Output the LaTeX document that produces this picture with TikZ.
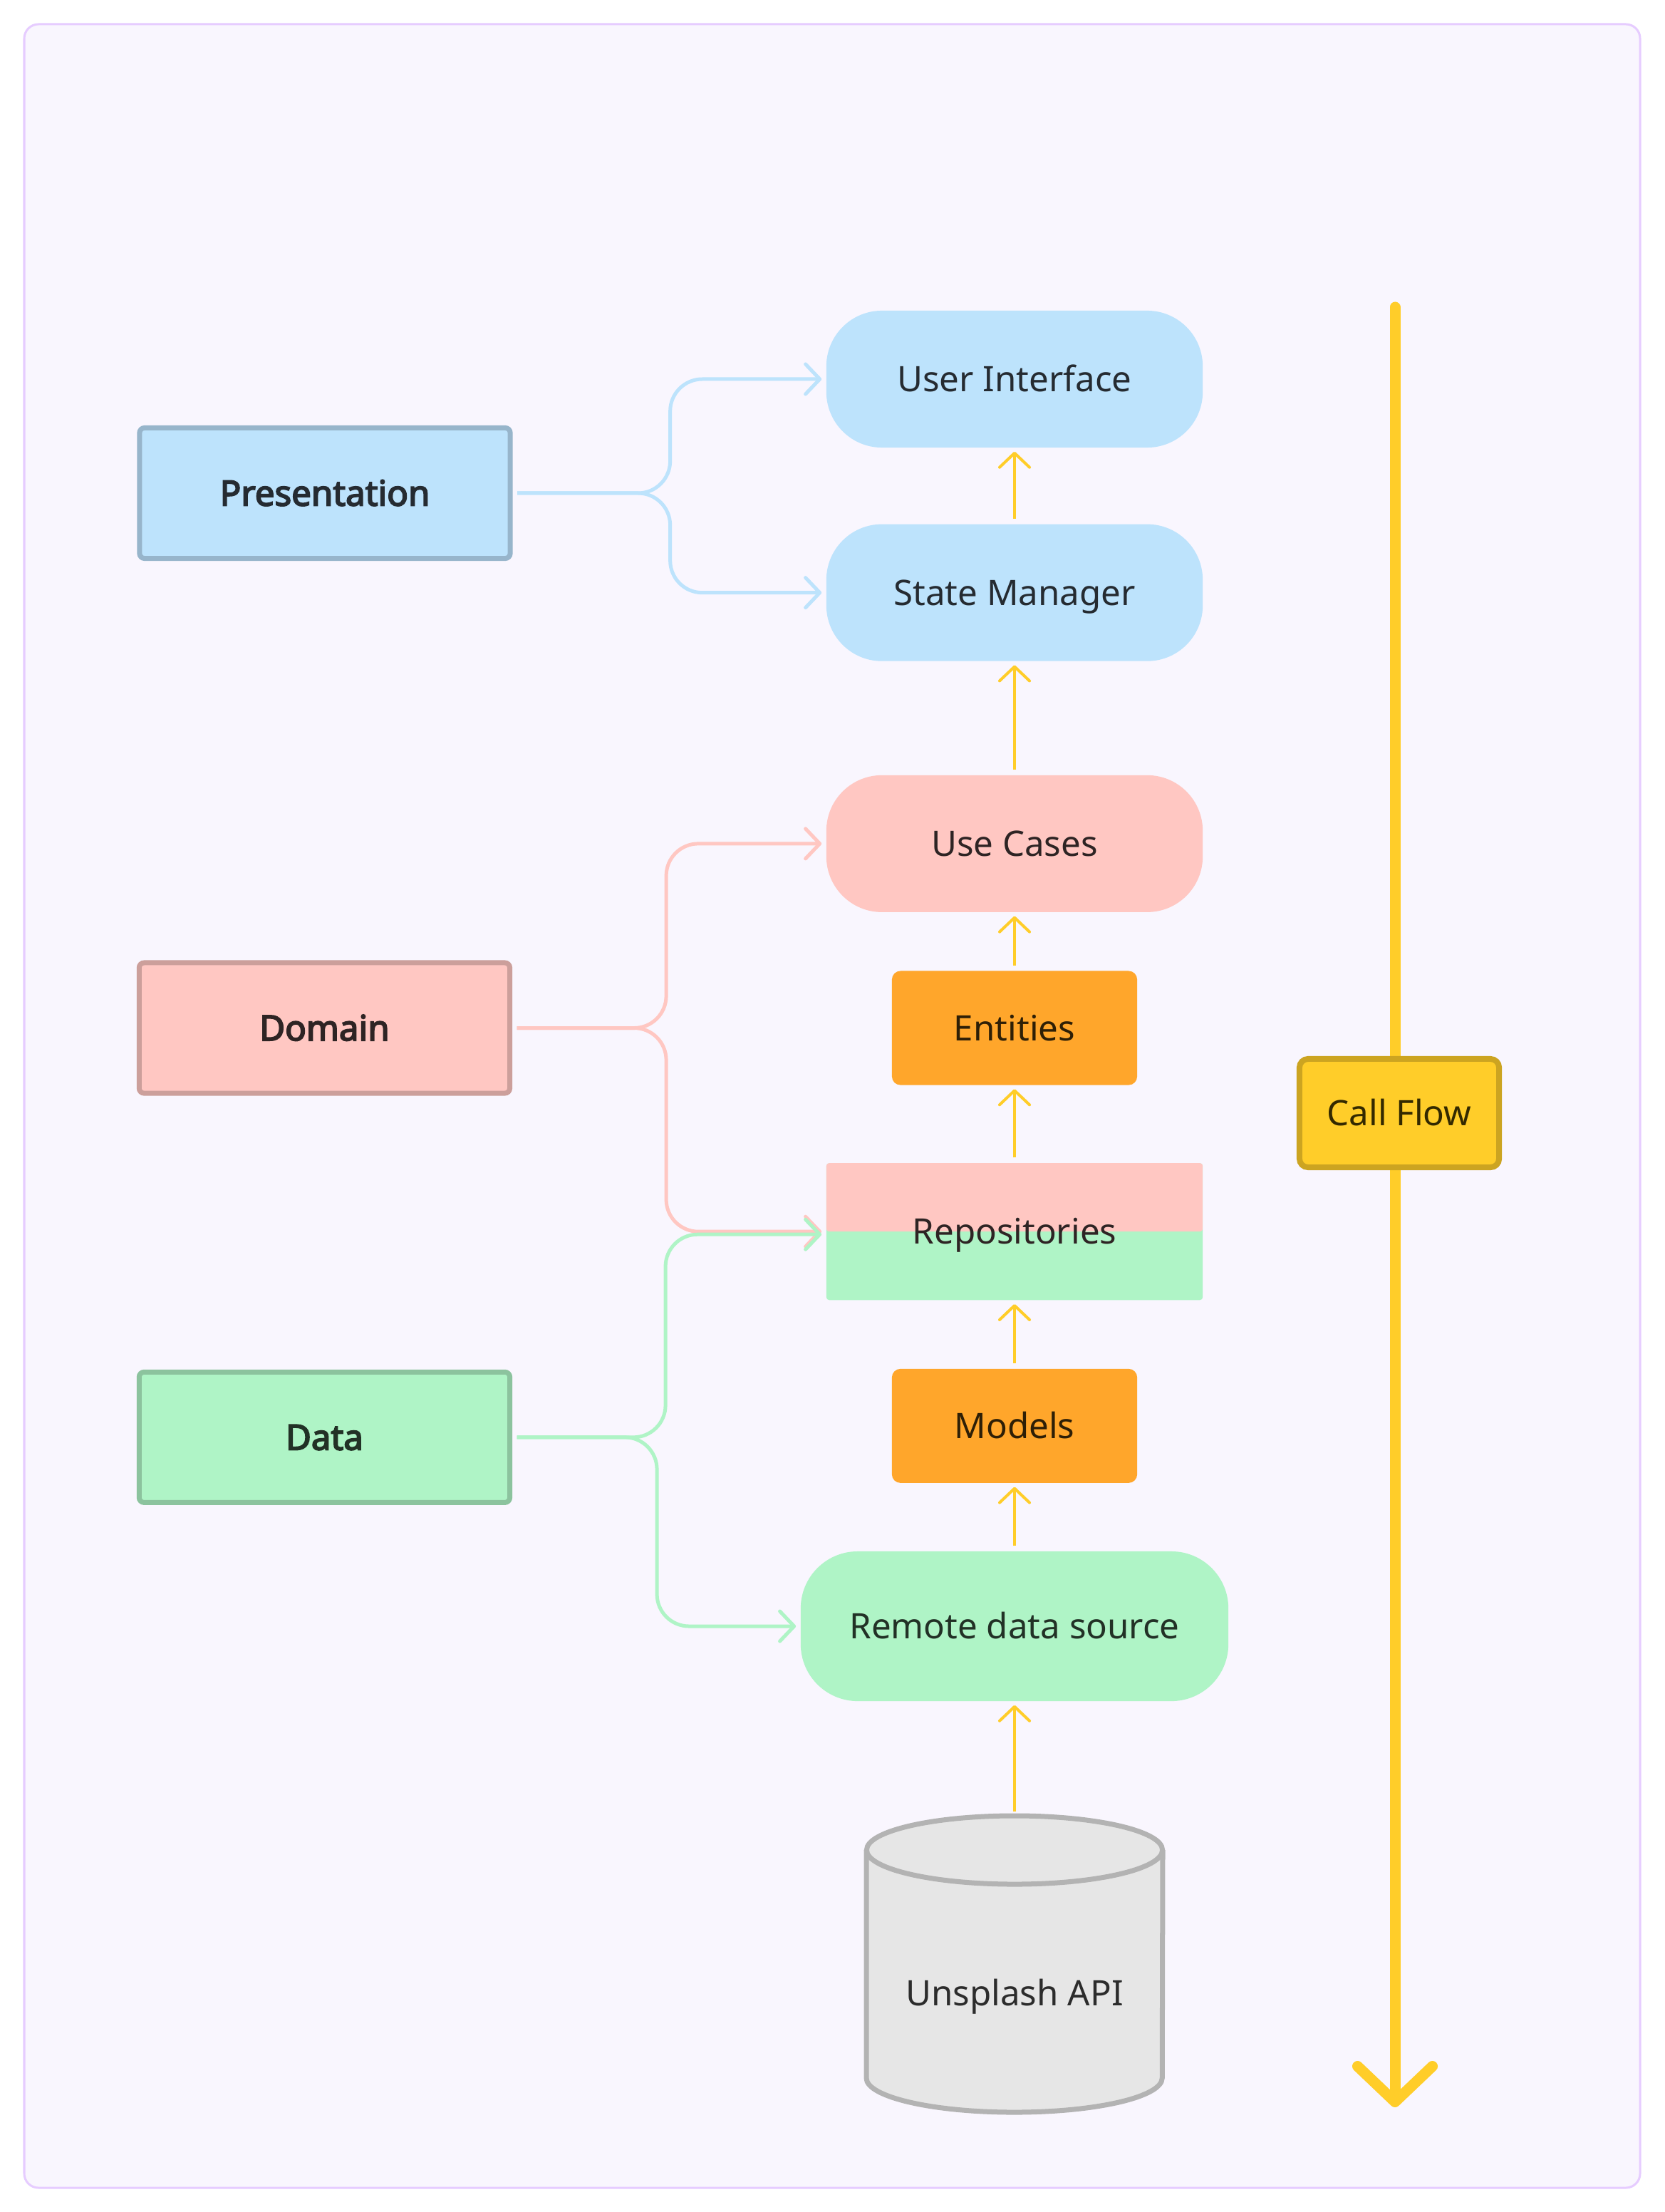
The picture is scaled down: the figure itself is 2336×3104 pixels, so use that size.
\documentclass[tikz,border=0pt]{standalone}
\usepackage{fontspec}
\setmainfont{Noto Sans}[BoldFont={Noto Sans},BoldFeatures={FakeBold=3.6}]
\usetikzlibrary{arrows.meta,positioning}

\definecolor{canvas}{HTML}{F9F6FE}
\definecolor{canvasline}{HTML}{E6CCFF}
\definecolor{presfill}{HTML}{BDE3FC}
\definecolor{presline}{HTML}{97B5CB}
\definecolor{presink}{HTML}{252B31}
\definecolor{domfill}{HTML}{FFC7C2}
\definecolor{domline}{HTML}{CC9F9B}
\definecolor{domink}{HTML}{2E2424}
\definecolor{datafill}{HTML}{AFF4C6}
\definecolor{dataline}{HTML}{8CC39E}
\definecolor{dataink}{HTML}{223126}
\definecolor{entfill}{HTML}{FFA62B}
\definecolor{entink}{HTML}{2E1F06}
\definecolor{flowyellow}{HTML}{FFCD29}
\definecolor{flowline}{HTML}{CCA421}
\definecolor{flowink}{HTML}{332900}
\definecolor{dbfill}{HTML}{E6E6E6}
\definecolor{dbline}{HTML}{B3B3B3}
\definecolor{dbink}{HTML}{2C2C2C}

\tikzstyle{label} = [font=\fontsize{14}{17}\selectfont, text height=10pt, text depth=0pt]
\tikzstyle{layer} = [label, draw, line width=0.07cm, rounded corners=0.07cm, minimum width=5.2cm, minimum height=1.83cm, font=\fontsize{14}{17}\selectfont\bfseries]
\tikzstyle{pill} = [label, rounded corners=0.78cm, minimum width=5.28cm, minimum height=1.92cm]
\tikzstyle{block} = [label, fill=entfill, text=entink, rounded corners=0.12cm, minimum width=3.44cm, minimum height=1.6cm]
\tikzstyle{flow} = [draw=flowyellow, line width=0.04cm, shorten <=0.07cm, shorten >=0.05cm]
\tikzstyle{link} = [line width=0.05cm, rounded corners=0.45cm, shorten <=0.065cm, shorten >=0.06cm]

\begin{document}
\begin{tikzpicture}[x=0.01cm,y=-0.01cm,>={Straight Barb[length=0.2cm,width=0.42cm,round]},node distance=3cm]

  % page and canvas
  \useasboundingbox (0,0) rectangle (2336,3104);
  \fill[white] (0,0) rectangle (2336,3104);
  \draw[canvasline, fill=canvas, line width=0.03cm, rounded corners=0.2cm] (34,34) rectangle (2302,3070);

  % middle column
  \node[pill, fill=presfill, text=presink] (ui) at (1424,532) {User Interface};
  \node[pill, fill=presfill, text=presink] (sm) [below of=ui, node distance=2.995cm] {State Manager};
  \node[pill, fill=domfill, text=domink] (uc) [below of=sm, node distance=3.52cm] {Use Cases};
  \node[block] (ent) [below of=uc, node distance=2.585cm] {Entities};
  \node[pill, rounded corners=0.04cm, fill=datafill, text=domink,
        path picture={\fill[domfill] (path picture bounding box.north west) rectangle (path picture bounding box.east);}]
        (repo) [below of=ent, node distance=2.855cm] {Repositories};
  \node[block] (models) [below of=repo, node distance=2.725cm] {Models};
  \node[pill, fill=datafill, text=dataink, minimum width=6cm, minimum height=2.1cm, rounded corners=0.8cm]
        (rds) [below of=models, node distance=2.81cm] {Remote data source};

  % database
  \fill[dbfill] (1216,2596) rectangle (1632,2916);
  \fill[dbfill] (1424,2916) ellipse [x radius=2.075cm, y radius=0.48cm];
  \draw[dbline, line width=0.07cm] (1216,2596) -- (1216,2916)
        arc [start angle=180, end angle=360, x radius=2.075cm, y radius=0.48cm] -- (1632,2596);
  \filldraw[fill=dbfill, draw=dbline, line width=0.07cm] (1424,2596) ellipse [x radius=2.075cm, y radius=0.48cm];
  \node[label, text=dbink] (api) at (1424,2797) {Unsplash API};
  \coordinate (apitop) at (1424,2549);

  % layers
  \node[layer, fill=presfill, draw=presline, text=presink] (pres) at (456,692) {Presentation};
  \node[layer, fill=domfill, draw=domline, text=domink] (dom) [left of=ent, node distance=9.68cm] {Domain};
  \node[layer, fill=datafill, draw=dataline, text=dataink] (data) [below of=dom, node distance=5.74cm] {Data};

  % call flow
  \coordinate (flowtop) at (1958,431);
  \coordinate (flowend) at (1958,2957);
  \draw[flowyellow, line width=0.15cm, line cap=round, -{Straight Barb[length=0.5cm,width=1.05cm,round]}] (flowtop) -- (flowend);
  \node[label, draw=flowline, fill=flowyellow, text=flowink, line width=0.08cm, rounded corners=0.12cm,
        minimum width=2.8cm, minimum height=1.52cm] (callflow) at (1964,1562) {Call Flow};

  \path[->]
    (sm) edge [flow] (ui)
    (uc) edge [flow] (sm)
    (ent) edge [flow] (uc)
    (repo) edge [flow] (ent)
    (models) edge [flow] (repo)
    (rds) edge [flow] (models)
    (apitop) edge [flow] (rds);

  \draw[link, presfill, ->] (pres.east) -- ++(221,0) |- (ui.west);
  \draw[link, presfill, ->] (pres.east) -- ++(221,0) |- (sm.west);
  \draw[link, domfill, ->] (dom.east) -- ++(216,0) |- (uc.west);
  \draw[link, domfill, ->] (dom.east) -- ++(216,0) |- (repo.west);
  \draw[link, datafill, ->] (data.east) -- ++(215,0) |- ([yshift=-0.04cm]repo.west);
  \draw[link, datafill, ->] (data.east) -- ++(203,0) |- (rds.west);

\end{tikzpicture}
\end{document}
